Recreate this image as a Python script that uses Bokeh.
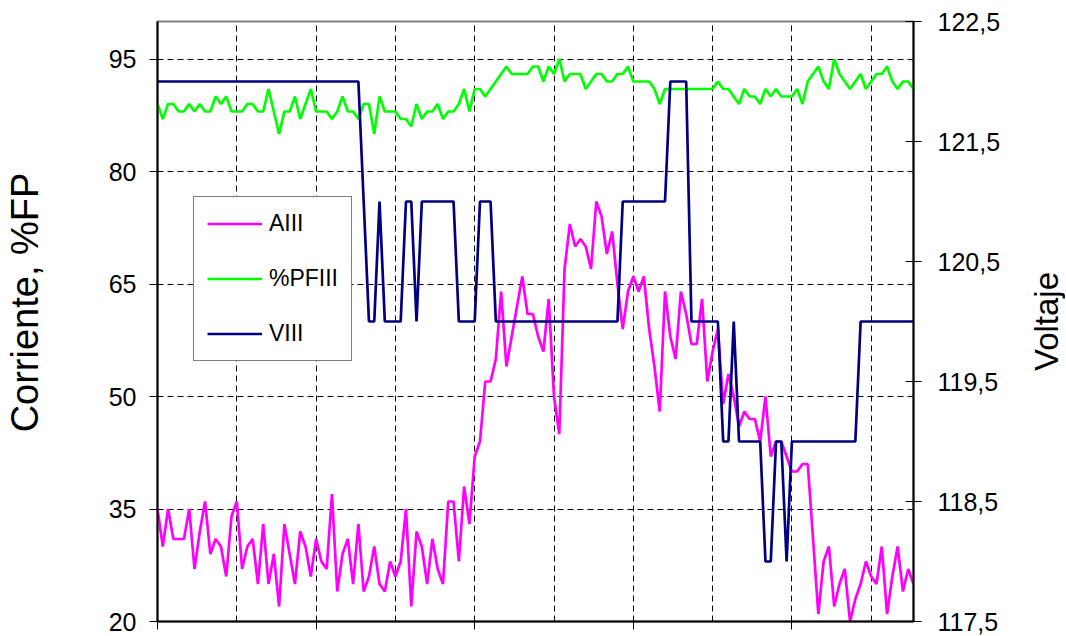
import math
from bokeh.plotting import figure
from bokeh.layouts import row
from bokeh.models import (Range1d, LinearAxis, FixedTicker, CustomJSTickFormatter,
                          Legend, LegendItem)
from bokeh.embed import file_html
from bokeh.resources import INLINE

# ---------------- data ----------------
x_idx = list(range(144))

aiii = [35, 30, 35, 31, 31, 31, 35, 27, 32, 36,
        29, 31, 30, 26, 34, 36, 27, 30, 31, 25,
        33, 25, 29, 22, 33, 29, 25, 32, 30, 26,
        31, 28, 27, 37, 24, 29, 31, 25, 33, 24,
        26, 30, 25, 24, 28, 26, 28, 35, 22, 32,
        30, 25, 31, 27, 25, 36, 36, 28, 38, 33,
        42, 44, 52, 52, 55, 64, 54, 58, 62, 66,
        61, 61, 58, 56, 63, 50, 45, 67, 73, 70,
        71, 70, 67, 76, 74, 69, 72, 65, 59, 64,
        66, 64, 66, 59, 54, 48, 64, 58, 55, 64,
        61, 57, 57, 63, 52, 56, 59, 49, 53, 50,
        46, 48, 47, 47, 44, 50, 42, 44, 44, 42,
        40, 40, 41, 41, 31, 21, 28, 30, 22, 25,
        27, 20, 23, 25, 28, 26, 25, 30, 21, 26,
        30, 24, 27, 25]

pfiii = [89, 87, 89, 89, 88, 88, 89, 88, 89, 88,
         88, 90, 89, 90, 88, 88, 88, 89, 89, 88,
         88, 91, 88, 85, 88, 88, 90, 87, 89, 91,
         88, 88, 88, 87, 88, 90, 88, 88, 87, 89,
         89, 85, 90, 88, 88, 88, 87, 87, 86, 89,
         87, 88, 88, 89, 87, 88, 88, 89, 91, 88,
         91, 91, 90, 91, 92, 93, 94, 93, 93, 93,
         93, 94, 94, 92, 94, 93, 95, 92, 93, 93,
         93, 91, 92, 93, 93, 92, 92, 93, 93, 94,
         92, 92, 92, 92, 91, 89, 91, 91, 91, 91,
         91, 91, 91, 91, 91, 91, 92, 91, 91, 90,
         89, 91, 90, 90, 89, 91, 90, 91, 90, 90,
         90, 91, 89, 92, 93, 94, 92, 91, 95, 93,
         92, 91, 92, 93, 91, 92, 93, 93, 94, 92,
         91, 92, 92, 91]

viii = ([122] * 39 + [121] + [120, 120] + [121] + [120, 120, 120, 120] +
        [121, 121] + [120] + [121] * 7 + [120] * 4 + [121] * 3 + [120] * 24 +
        [121] * 9 + [122] * 4 + [120] * 6 + [119, 119] + [120] + [119] * 5 +
        [118, 118] + [119, 119] + [118] + [119] * 13 + [120] * 11)

left_ticks = [20, 35, 50, 65, 80, 95]
right_ticks = [117.5, 118.5, 119.5, 120.5, 121.5, 122.5]
x_ticks = [0, 30, 60, 90, 120]
x_grid = [15, 30, 45, 60, 75, 90, 105, 120, 135]

left_title = "Corriente, %FP"
right_title = "Voltaje"
series_names = ["AIII", "%PFIII", "VIII"]

FONT = "Liberation Sans"

p = figure(frame_width=756, frame_height=600,
           x_range=Range1d(0, 143), y_range=Range1d(20, 100),
           output_backend="svg", toolbar_location=None,
           min_border_left=157, min_border_top=21,
           min_border_right=90, min_border_bottom=15)
p.extra_y_ranges = {"v": Range1d(117.5, 122.5)}
p.background_fill_color = "white"
p.border_fill_color = "white"
p.outline_line_color = "#808080"
p.outline_line_width = 2

# x axis (ticks only, no labels)
xa = p.xaxis[0]
xa.ticker = FixedTicker(ticks=x_ticks)
xa.formatter = CustomJSTickFormatter(code="return '';")
xa.major_label_text_font_size = "10px"
xa.major_label_standoff = 0
xa.major_tick_out = 8
xa.major_tick_in = 0
xa.minor_tick_line_color = None
xa.axis_line_width = 2
xa.axis_line_color = "black"
xa.major_tick_line_color = "black"
xa.major_tick_line_width = 1

# left axis
ya = p.yaxis[0]
ya.ticker = FixedTicker(ticks=left_ticks)
ya.major_label_text_font = FONT
ya.major_label_text_font_size = "25px"
ya.major_label_text_color = "black"
ya.major_label_standoff = 13
ya.major_tick_out = 8
ya.major_tick_in = 0
ya.minor_tick_line_color = None
ya.axis_line_width = 2
ya.axis_line_color = "black"
ya.major_tick_line_color = "black"
# leading em space shifts the visible title slightly upward, as in the original
ya.axis_label = "\u2003" + left_title
ya.axis_label_text_font = FONT
ya.axis_label_text_font_size = "38px"
ya.axis_label_text_font_style = "normal"
ya.axis_label_text_color = "black"
ya.axis_label_standoff = 60

# right axis (ticks + labels only)
ra = LinearAxis(y_range_name="v", ticker=FixedTicker(ticks=right_ticks),
                formatter=CustomJSTickFormatter(code="return tick.toFixed(1).replace('.', ',');"))
ra.major_label_text_font = FONT
ra.major_label_text_font_size = "25px"
ra.major_label_text_color = "black"
ra.major_label_standoff = 16
ra.major_tick_out = 8
ra.major_tick_in = 8
ra.minor_tick_line_color = None
ra.axis_line_width = 2
ra.axis_line_color = "black"
ra.major_tick_line_color = "black"
p.add_layout(ra, "right")

# grids
p.xgrid.ticker = FixedTicker(ticks=x_grid)
p.ygrid.ticker = FixedTicker(ticks=left_ticks[1:])
for g in (p.xgrid[0], p.ygrid[0]):
    g.grid_line_color = "black"
    g.grid_line_dash = "6 4"
    g.grid_line_width = 1

r1 = p.line(x_idx, aiii, line_color="#FF00FF", line_width=2.7)
r2 = p.line(x_idx, pfiii, line_color="#00FF00", line_width=2.7)
r3 = p.line(x_idx, viii, line_color="#000080", line_width=2.7, y_range_name="v")

legend = Legend(items=[LegendItem(label=series_names[0], renderers=[r1]),
                       LegendItem(label=series_names[1], renderers=[r2]),
                       LegendItem(label=series_names[2], renderers=[r3])],
                location=(36, 260))
legend.border_line_color = "black"
legend.border_line_width = 1
legend.background_fill_color = "white"
legend.background_fill_alpha = 1
legend.label_text_font = FONT
legend.label_text_font_size = "23px"
legend.label_text_color = "black"
legend.glyph_width = 55
legend.glyph_height = 27
legend.label_height = 27
legend.spacing = 28
legend.padding = 13
legend.label_standoff = 7
legend.margin = 0
p.add_layout(legend)

# narrow companion figure carrying the right-hand title (reads bottom-to-top)
q = figure(frame_width=1, frame_height=600,
           x_range=Range1d(0, 1), y_range=Range1d(0, 1),
           output_backend="svg", toolbar_location=None,
           min_border_left=61, min_border_right=0,
           min_border_top=21, min_border_bottom=15)
q.background_fill_color = "white"
q.border_fill_color = "white"
q.outline_line_color = None
q.xaxis.visible = False
q.xgrid.visible = False
q.ygrid.visible = False
qa = q.yaxis[0]
qa.ticker = FixedTicker(ticks=[])
qa.major_tick_out = 0
qa.major_tick_in = 0
qa.minor_tick_line_color = None
qa.major_label_standoff = 0
qa.axis_line_color = None
qa.axis_label = right_title
qa.axis_label_text_font = FONT
qa.axis_label_text_font_size = "33px"
qa.axis_label_text_font_style = "normal"
qa.axis_label_text_color = "black"
qa.axis_label_standoff = 0

layout = row(p, q, spacing=0)
open("out.html", "w").write(file_html(layout, INLINE))
